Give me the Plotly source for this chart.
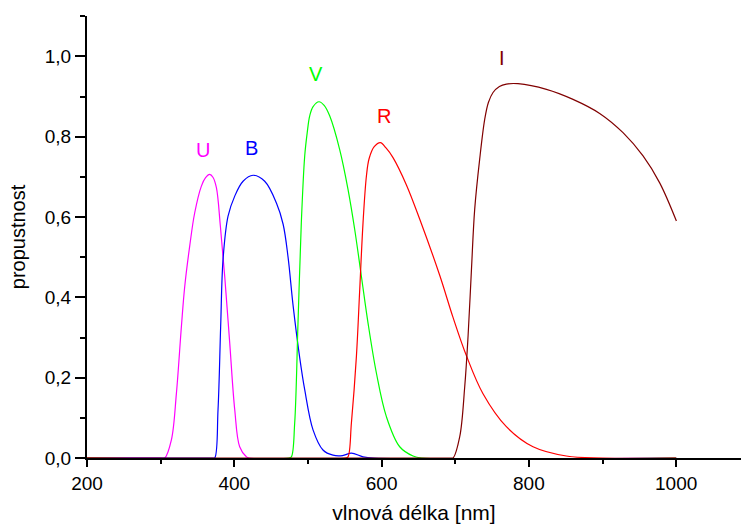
import plotly.graph_objects as go

# Filter transmission curves (wavelength nm, transmission)
U_wl = [200, 300, 305.5, 314.6, 321.4, 328.2, 332.7, 339.4, 346.2, 355.3, 361, 366.6, 371, 375.7, 381.1, 387.0, 393.8, 400.6, 407.3, 416.4, 420, 1000]
U_t  = [0, 0, 0.0, 0.045, 0.161, 0.328, 0.427, 0.527, 0.61, 0.677, 0.698, 0.706, 0.699, 0.673, 0.577, 0.452, 0.286, 0.12, 0.028, 0.003, 0, 0]

B_wl = [200, 370, 373.4, 377.9, 381.5, 384.7, 391.5, 400.6, 411.9, 425.5, 441.3, 457.2, 466.3, 473.0, 479.8, 488.8, 495.6, 506.9, 520.4, 534.0, 547, 559.0, 574.8, 590, 1000]
B_t  = [0, 0, 0.0, 0.12, 0.328, 0.494, 0.602, 0.652, 0.689, 0.704, 0.689, 0.635, 0.582, 0.5, 0.38, 0.25, 0.17, 0.07, 0.02, 0.007, 0.006, 0.012, 0.003, 0, 0]

V_wl = [200, 474, 477.5, 482.0, 486.5, 491.0, 495.6, 499, 502.4, 507, 515.0, 522, 529.5, 543.1, 554.4, 563.5, 572.6, 581.6, 593.0, 606.5, 624.6, 642.7, 655, 1000]
V_t  = [0, 0, 0.003, 0.087, 0.336, 0.586, 0.752, 0.81, 0.852, 0.875, 0.887, 0.878, 0.852, 0.768, 0.669, 0.569, 0.452, 0.336, 0.211, 0.103, 0.028, 0.005, 0, 0]

R_wl = [200, 551, 554.4, 559.0, 565.8, 570.3, 574.8, 579.4, 583, 590, 598.4, 606, 615.5, 633.7, 651.7, 678.9, 697.0, 715.1, 737.7, 769.4, 805.6, 850.9, 900, 1000]
R_t  = [0, 0, 0.003, 0.087, 0.253, 0.419, 0.586, 0.702, 0.745, 0.775, 0.785, 0.772, 0.748, 0.68, 0.595, 0.455, 0.35, 0.255, 0.16, 0.078, 0.028, 0.005, 0, 0]

I_wl = [200, 694, 697.0, 706.1, 712.9, 717.4, 722.0, 726.4, 733.2, 740.0, 745, 751.3, 760, 769.4, 785.2, 823.8, 859.9, 896.1, 927.8, 955.0, 977.6, 1000.3]
I_t  = [0, 0, 0.0, 0.053, 0.178, 0.303, 0.469, 0.619, 0.744, 0.843, 0.885, 0.91, 0.925, 0.931, 0.932, 0.918, 0.893, 0.858, 0.81, 0.752, 0.685, 0.59]

names = ["U", "B", "V", "R", "I"]
colors = ["#FF00FF", "#0000FF", "#00FF00", "#FF0000", "#800000"]
label_x = [357, 424, 511, 603, 763]
label_y = [0.768, 0.773, 0.956, 0.851, 0.995]

series = [(U_wl, U_t), (B_wl, B_t), (V_wl, V_t), (R_wl, R_t), (I_wl, I_t)]

fig = go.Figure()
for (wl, t), n, c in zip(series, names, colors):
    fig.add_trace(go.Scatter(x=wl, y=t, mode="lines", name=n,
                             line=dict(color=c, width=1.2, shape="spline", smoothing=1.0),
                             hoverinfo="skip"))

for n, c, lx, ly in zip(names, colors, label_x, label_y):
    fig.add_annotation(x=lx, y=ly, text=n, showarrow=False,
                       font=dict(family="Liberation Sans, Arial", size=20, color=c))

font = "Liberation Sans, Arial"
fig.update_layout(
    width=741, height=524,
    margin=dict(l=87, r=0, t=16, b=66),
    plot_bgcolor="white", paper_bgcolor="white",
    showlegend=False,
    separators=", ",
    font=dict(family=font, size=19, color="black"),
    xaxis=dict(range=[200, 1088], tick0=200, dtick=200, ticks="outside", ticklen=7, tickwidth=2,
               tickcolor="black", showline=True, linewidth=2, linecolor="black",
               showgrid=False, zeroline=False,
               minor=dict(dtick=100, tick0=200, ticks="outside", ticklen=4, tickwidth=2, tickcolor="black"),
               tickfont=dict(size=19),
               title=dict(text="vlnová délka [nm]", font=dict(size=21), standoff=13)),
    yaxis=dict(range=[0, 1.1005], tick0=0, dtick=0.2, tickformat=".1f", ticks="outside", ticklen=10,
               tickwidth=2, tickcolor="black", showline=True, linewidth=2, linecolor="black",
               showgrid=False, zeroline=False,
               minor=dict(dtick=0.1, tick0=0, ticks="outside", ticklen=5, tickwidth=2, tickcolor="black"),
               tickfont=dict(size=19),
               title=dict(text="propustnost", font=dict(size=20), standoff=14)),
)

fig.write_html("out.html")
